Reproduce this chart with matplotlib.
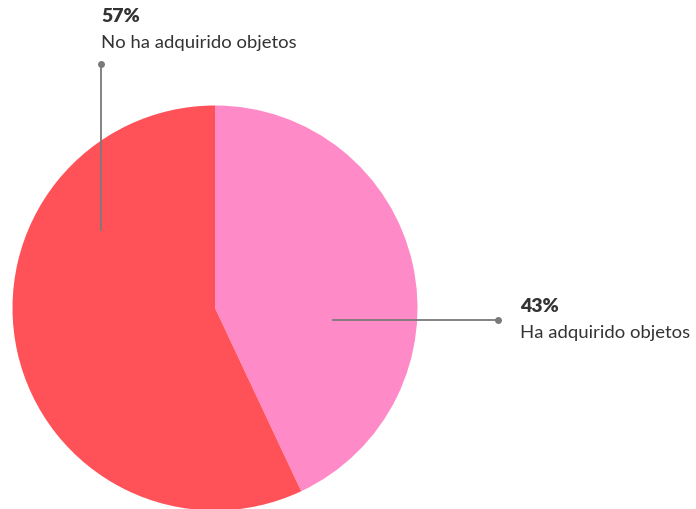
import numpy as np
import matplotlib.pyplot as plt

labels = ["Ha adquirido objetos", "No ha adquirido objetos"]
values = [43, 57]
colors = ["#FF8AC8", "#FF5258"]

W, H = 696, 510
fig = plt.figure(figsize=(W / 100, H / 100), dpi=100)
ax = fig.add_axes([0, 0, 1, 1])

cx, cy, r = 215, H - 309, 202.5
ax.pie(values, colors=colors, startangle=90, counterclock=False,
       center=(cx, cy), radius=r, frame=True,
       wedgeprops=dict(linewidth=0))
ax.set_xlim(0, W)
ax.set_ylim(0, H)
ax.set_aspect("equal")
ax.axis("off")

line_col = "#7a7a7a"
txt_col = "#333333"
font = "Lato"

# 43% label, leader going right
ax.plot([333, 498], [H - 321, H - 321], color=line_col, lw=1.3)
ax.plot(498, H - 321, "o", color=line_col, ms=4)
ax.text(520, H - 307, f"{values[0]}%", fontsize=14, fontweight="heavy",
        color=txt_col, family=font, va="center")
ax.text(520, H - 333, labels[0], fontsize=13.3, color=txt_col,
        family=font, va="center")

# 57% label, leader going up
ax.plot([101, 101], [H - 231, H - 65], color=line_col, lw=1.3)
ax.plot(101, H - 65, "o", color=line_col, ms=4)
ax.text(101, H - 16, f"{values[1]}%", fontsize=14, fontweight="heavy",
        color=txt_col, family=font, va="center")
ax.text(101, H - 43, labels[1], fontsize=13.3, color=txt_col,
        family=font, va="center")

fig.savefig("out.png", dpi=100)
